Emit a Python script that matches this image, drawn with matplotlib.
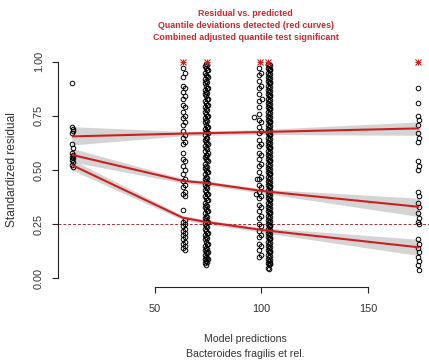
import matplotlib
matplotlib.use("Agg")
import matplotlib.pyplot as plt

plt.rcParams["font.family"] = ["Liberation Sans", "DejaVu Sans"]

# ---- scaled residuals grouped by predicted value ----
left_pred = [11.0, 11.4]
left_resid_a = [0.90, 0.70, 0.67, 0.62, 0.58, 0.56, 0.545, 0.525]
left_resid_b = [0.69, 0.68, 0.60, 0.57, 0.555, 0.535, 0.515]

col63_pred = [63.0, 64.2]
col63_resid_a = [0.97, 0.93, 0.89, 0.86, 0.83, 0.80, 0.77, 0.74, 0.71, 0.68,
                 0.65, 0.62, 0.58, 0.55, 0.52, 0.48, 0.45, 0.42, 0.39, 0.315,
                 0.26, 0.24, 0.22, 0.20, 0.18, 0.16, 0.14]
col63_resid_b = [0.95, 0.88, 0.84, 0.79, 0.75, 0.72, 0.66, 0.63, 0.54, 0.50,
                 0.46, 0.43, 0.40, 0.38, 0.27, 0.25, 0.23, 0.21, 0.19, 0.17,
                 0.15, 0.13]

col74_pred = [73.7, 74.1, 74.5, 74.9]
col74_resid_a = [0.98, 0.95, 0.92, 0.90, 0.87, 0.85, 0.82, 0.79, 0.77, 0.74,
                 0.72, 0.69, 0.66, 0.64, 0.61, 0.59, 0.56, 0.53, 0.51, 0.48,
                 0.46, 0.43, 0.41, 0.38, 0.35, 0.33, 0.30, 0.28, 0.25, 0.23,
                 0.20, 0.18, 0.15, 0.13, 0.11, 0.09, 0.07]
col74_resid_b = [0.99, 0.97, 0.94, 0.91, 0.89, 0.86, 0.84, 0.81, 0.78, 0.76,
                 0.73, 0.71, 0.68, 0.65, 0.63, 0.60, 0.57, 0.55, 0.52, 0.50,
                 0.47, 0.45, 0.42, 0.40, 0.37, 0.34, 0.32, 0.29, 0.27, 0.24,
                 0.22, 0.19, 0.17, 0.14, 0.12, 0.10, 0.08, 0.06]
col74_resid_c = [0.985, 0.96, 0.935, 0.905, 0.88, 0.855, 0.83, 0.80, 0.775,
                 0.75, 0.725, 0.70, 0.675, 0.65, 0.625, 0.595, 0.57, 0.545,
                 0.515, 0.49, 0.465, 0.44, 0.415, 0.39, 0.36, 0.335, 0.31,
                 0.285, 0.26, 0.235, 0.21, 0.185, 0.16, 0.135, 0.115, 0.095,
                 0.075]
col74_resid_d = [0.96, 0.93, 0.88, 0.83, 0.80, 0.75, 0.70, 0.67, 0.62, 0.58,
                 0.54, 0.49, 0.44, 0.39, 0.36, 0.31, 0.26, 0.21, 0.16, 0.12,
                 0.09]

col99_pred = [99.0, 99.8]
col99_resid_a = [0.97, 0.94, 0.91, 0.88, 0.85, 0.82, 0.79, 0.76, 0.73, 0.70,
                 0.67, 0.64, 0.61, 0.58, 0.55, 0.52, 0.49, 0.46, 0.43, 0.40,
                 0.37, 0.34, 0.31, 0.28, 0.25, 0.22, 0.19, 0.16, 0.13, 0.10]
col99_resid_b = [0.95, 0.89, 0.72, 0.68, 0.62, 0.57, 0.53, 0.47, 0.42, 0.38,
                 0.33, 0.29, 0.24, 0.20, 0.15, 0.11]

col103_pred = [103.1, 103.45, 103.8, 104.15]
col103_resid_a = [0.99, 0.97, 0.95, 0.93, 0.91, 0.89, 0.87, 0.85, 0.83, 0.81,
                  0.79, 0.77, 0.75, 0.73, 0.71, 0.69, 0.67, 0.65, 0.63, 0.61,
                  0.59, 0.57, 0.55, 0.53, 0.51, 0.49, 0.47, 0.45, 0.43, 0.41,
                  0.39, 0.37, 0.35, 0.33, 0.31, 0.29, 0.27, 0.25, 0.23, 0.21,
                  0.19, 0.17, 0.15, 0.13, 0.11, 0.09, 0.07, 0.05]
col103_resid_b = [0.98, 0.96, 0.94, 0.92, 0.90, 0.88, 0.86, 0.84, 0.82, 0.80,
                  0.78, 0.76, 0.74, 0.72, 0.70, 0.68, 0.66, 0.64, 0.62, 0.60,
                  0.58, 0.56, 0.54, 0.52, 0.50, 0.48, 0.46, 0.44, 0.42, 0.40,
                  0.38, 0.36, 0.34, 0.32, 0.30, 0.28, 0.26, 0.24, 0.22, 0.20,
                  0.18, 0.16, 0.14, 0.12, 0.10, 0.08, 0.06, 0.045]
col103_resid_c = [0.985, 0.965, 0.945, 0.925, 0.905, 0.885, 0.865, 0.845,
                  0.825, 0.805, 0.785, 0.765, 0.745, 0.725, 0.705, 0.685,
                  0.665, 0.645, 0.625, 0.605, 0.585, 0.565, 0.545, 0.525,
                  0.505, 0.485, 0.465, 0.445, 0.425, 0.405, 0.385, 0.365,
                  0.345, 0.325, 0.305, 0.285, 0.265, 0.245, 0.225, 0.205,
                  0.185, 0.165, 0.145, 0.125, 0.105, 0.085, 0.065]
col103_resid_d = [0.96, 0.90, 0.84, 0.78, 0.72, 0.66, 0.60, 0.54, 0.48, 0.42,
                  0.36, 0.30, 0.24, 0.18, 0.12, 0.07]

scatter_pred = [96.5, 97.2, 100.4, 97.8]
scatter_resid = [0.745, 0.39, 0.83, 0.46]

right_pred = [173.3, 174.0]
right_resid_a = [0.88, 0.81, 0.75, 0.71, 0.67, 0.63, 0.54, 0.50, 0.40, 0.35,
                 0.30, 0.26, 0.18, 0.14, 0.10, 0.06]
right_resid_b = [0.73, 0.65, 0.52, 0.38, 0.33, 0.28, 0.25, 0.16, 0.12, 0.08,
                 0.04]

# residuals at the boundary (flagged as outliers)
outlier_pred = [63.2, 74.3, 99.2, 103.2, 173.6]
outlier_resid = [1.0, 1.0, 1.0, 1.0, 1.0]

# ---- quantile regression curves (0.25, 0.5, 0.75) and their bands ----
curve_x = [11, 63, 74, 99, 103, 174]
q25 = [0.523, 0.28, 0.26, 0.225, 0.22, 0.143]
q25_lo = [0.500, 0.27, 0.25, 0.215, 0.208, 0.105]
q25_hi = [0.548, 0.29, 0.27, 0.235, 0.232, 0.180]
q50 = [0.570, 0.45, 0.44, 0.405, 0.40, 0.330]
q50_lo = [0.537, 0.44, 0.43, 0.395, 0.39, 0.285]
q50_hi = [0.600, 0.46, 0.45, 0.415, 0.41, 0.370]
q75 = [0.655, 0.668, 0.670, 0.675, 0.676, 0.692]
q75_lo = [0.615, 0.658, 0.660, 0.664, 0.664, 0.660]
q75_hi = [0.700, 0.678, 0.680, 0.686, 0.688, 0.722]

ref_quantile = 0.25

x_ticks = [50, 100, 150]
y_ticks = [0.00, 0.25, 0.50, 0.75, 1.00]
y_tick_labels = ["0.00", "0.25", "0.50", "0.75", "1.00"]

title_lines = ["Residual vs. predicted",
               "Quantile deviations detected (red curves)",
               "Combined adjusted quantile test significant"]
x_label_lines = ["Model predictions", "Bacteroides fragilis et rel."]
y_label = "Standardized residual"

W, H = 429, 364
fig = plt.figure(figsize=(W / 100, H / 100), dpi=100)
ax = fig.add_axes([58 / W, (H - 287) / H, (433 - 58) / W, (287 - 53) / H])
ax.set_xlim(4.5, 180.5)
ax.set_ylim(-0.04, 1.04)
ax.patch.set_alpha(0)

red = "#cc2020"
band = "#d4d4d4"

for lo, hi in [(q25_lo, q25_hi), (q50_lo, q50_hi), (q75_lo, q75_hi)]:
    ax.fill_between(curve_x, lo, hi, color=band, lw=0, zorder=1)

ax.axhline(ref_quantile, color="#a8323a", lw=0.7, dashes=(3, 2), zorder=2)

pt_style = dict(ls="none", marker="o", ms=3.3, mfc="none", mec="black",
                mew=0.7, zorder=3)


def column(xs, groups):
    for x, ys in zip(xs, groups):
        ax.plot([x] * len(ys), ys, **pt_style)


column(left_pred, [left_resid_a, left_resid_b])
column(col63_pred, [col63_resid_a, col63_resid_b])
column(col74_pred, [col74_resid_a, col74_resid_b, col74_resid_c,
                    col74_resid_d])
column(col99_pred, [col99_resid_a, col99_resid_b])
column(col103_pred, [col103_resid_a, col103_resid_b, col103_resid_c,
                     col103_resid_d])
column(right_pred, [right_resid_a, right_resid_b])
ax.plot(scatter_pred, scatter_resid, **pt_style)

for m in ["+", "x"]:
    ax.plot(outlier_pred, outlier_resid, ls="none", marker=m, ms=4.5,
            mec=red, mew=0.8, zorder=4)

for q in [q25, q50, q75]:
    ax.plot(curve_x, q, color=red, lw=1.5, zorder=5, solid_capstyle="butt")

for s in ["top", "right"]:
    ax.spines[s].set_visible(False)
ax.spines["left"].set_bounds(0, 1)
ax.spines["bottom"].set_bounds(50, 150)
for s in ["left", "bottom"]:
    ax.spines[s].set_linewidth(0.8)
    ax.spines[s].set_color("#222222")

ax.set_xticks(x_ticks)
ax.set_xticklabels([str(t) for t in x_ticks])
ax.set_yticks(y_ticks)
ax.set_yticklabels(y_tick_labels, rotation=90, va="center")
ax.tick_params(axis="both", direction="out", length=4.3, width=0.8,
               colors="#222222", labelsize=7.8, labelcolor="#333333")
ax.tick_params(axis="x", pad=8)
ax.tick_params(axis="y", pad=6)

cx = (58 + 433) / 2 / W
for i, line in enumerate(title_lines):
    fig.text(cx, 1 - (13 + 12 * i) / H, line, ha="center", va="center",
             color="#cc2a30", fontsize=6.4, fontweight="bold")

for i, line in enumerate(x_label_lines):
    fig.text(cx, 1 - (339 + 15 * i) / H, line, ha="center", va="center",
             color="#333333", fontsize=7.6)

fig.text(12 / W, 1 - 170 / H, y_label, ha="center", va="center",
         rotation=90, color="#333333", fontsize=8.6)

fig.savefig("out.png", dpi=100)
